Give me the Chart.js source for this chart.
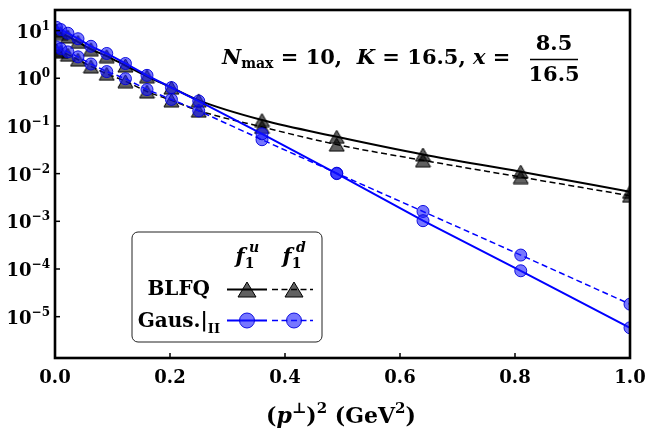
<!DOCTYPE html>
<html>
<head>
<meta charset="utf-8">
<script src="https://cdn.jsdelivr.net/npm/chart.js@4.4.1/dist/chart.umd.min.js"></script>
<style>
  body { margin: 0; background: #fff; }
  canvas { display: block; }
</style>
</head>
<body>
<canvas id="myChart" width="649" height="432"></canvas>
<script>
// (p_perp)^2 sample points, GeV^2
const pSq = [0.0025, 0.01, 0.0225, 0.04, 0.0625, 0.09, 0.1225, 0.16, 0.2025, 0.25, 0.36, 0.49, 0.64, 0.81, 1.0];
// BLFQ f1 for u and d quark
const blfqU = [10.0, 8.88, 7.52, 5.79, 4.06, 2.91, 1.85, 1.10, 0.637, 0.344, 0.133, 0.0593, 0.0252, 0.0110, 0.00416];
const blfqD = [3.87, 3.60, 3.12, 2.46, 1.77, 1.24, 0.867, 0.527, 0.344, 0.209, 0.0953, 0.0406, 0.0190, 0.00847, 0.00344];
// Gaussian fit (region II)
const gausU = [11.7, 10.5, 8.80, 6.74, 4.68, 3.31, 2.04, 1.15, 0.637, 0.333, 0.0684, 0.0100, 0.00103, 9.18e-5, 5.85e-6];
const gausD = [4.53, 4.16, 3.57, 2.81, 1.99, 1.38, 0.977, 0.579, 0.360, 0.207, 0.0514, 0.0102, 0.00161, 1.96e-4, 1.83e-5];

const xTicks = [0, 0.2, 0.4, 0.6, 0.8, 1.0];
const xTickLabels = ["0.0", "0.2", "0.4", "0.6", "0.8", "1.0"];
const yTickExp = [1, 0, -1, -2, -3, -4, -5];

const SERIF = "'DejaVu Serif'";
const BLUE = "#0000ff";
const BLUE_FILL = "rgba(20,20,255,0.58)";
const BLUE_EDGE = "rgba(0,0,220,0.9)";
const GREY_FILL = "rgba(0,0,0,0.62)";

function toPoints(xs, ys) {
  return xs.map((x, i) => ({ x: x, y: ys[i] }));
}

// triangle marker centred on its box, like matplotlib '^'
function triMarker(w, h) {
  const c = document.createElement("canvas");
  c.width = w + 2;
  c.height = h + 2;
  const g = c.getContext("2d");
  g.beginPath();
  g.moveTo(1 + w / 2, 1);
  g.lineTo(1 + w, 1 + h);
  g.lineTo(1, 1 + h);
  g.closePath();
  g.fillStyle = GREY_FILL;
  g.fill();
  g.strokeStyle = "#000";
  g.lineWidth = 1;
  g.stroke();
  return c;
}
const triImg = triMarker(15, 13);
const triLegend = triMarker(18, 15);

// draws text made of pieces with different fonts / offsets
function drawRich(ctx, parts, x, y, align) {
  let total = 0;
  parts.forEach((p) => {
    ctx.font = p.f;
    p.w = ctx.measureText(p.t).width;
    total += p.w;
  });
  let cx = x;
  if (align == "center") cx = x - total / 2;
  if (align == "right") cx = x - total;
  ctx.textAlign = "left";
  ctx.textBaseline = "alphabetic";
  parts.forEach((p) => {
    ctx.font = p.f;
    ctx.fillText(p.t, cx, y + (p.dy || 0));
    cx += p.w;
  });
  return cx;
}

function fnt(size, style) {
  return (style || "bold") + " " + size + "px " + SERIF;
}

function drawCirc(ctx, x, y, r) {
  ctx.beginPath();
  ctx.arc(x, y, r, 0, Math.PI * 2);
  ctx.fillStyle = BLUE_FILL;
  ctx.fill();
  ctx.strokeStyle = BLUE_EDGE;
  ctx.lineWidth = 1;
  ctx.stroke();
}

const decorPlugin = {
  id: "decor",
  afterDatasetsDraw(chart) {
    const ctx = chart.ctx;
    const a = chart.chartArea;
    const xs = chart.scales.x;
    const ys = chart.scales.y;
    ctx.save();
    ctx.fillStyle = "#000";
    ctx.strokeStyle = "#000";

    // inward ticks
    ctx.lineWidth = 1.5;
    xTicks.forEach((v) => {
      const px = xs.getPixelForValue(v);
      ctx.beginPath();
      ctx.moveTo(px, a.bottom);
      ctx.lineTo(px, a.bottom - 5);
      ctx.stroke();
    });
    yTickExp.forEach((e) => {
      const py = ys.getPixelForValue(Math.pow(10, e));
      ctx.beginPath();
      ctx.moveTo(a.left, py);
      ctx.lineTo(a.left + 5, py);
      ctx.stroke();
    });

    // frame
    ctx.lineWidth = 2.6;
    ctx.strokeRect(a.left, a.top, a.right - a.left, a.bottom - a.top);

    // tick labels
    xTicks.forEach((v, i) => {
      const px = xs.getPixelForValue(v);
      drawRich(ctx, [{ t: xTickLabels[i], f: fnt(18) }], px, a.bottom + 25, "center");
    });
    yTickExp.forEach((e) => {
      const py = ys.getPixelForValue(Math.pow(10, e));
      const ex = e < 0 ? "\u2212" + Math.abs(e) : String(e);
      drawRich(ctx, [
        { t: "10", f: fnt(18) },
        { t: ex, f: fnt(12), dy: -8 }
      ], a.left - 5, py + 7, "right");
    });

    // x axis title
    drawRich(ctx, [
      { t: "(", f: fnt(22) },
      { t: "p", f: fnt(22, "italic bold") },
      { t: "\u22a5", f: fnt(15), dy: -10 },
      { t: ")", f: fnt(22) },
      { t: "2", f: fnt(15), dy: -10 },
      { t: " (GeV", f: fnt(22) },
      { t: "2", f: fnt(15), dy: -10 },
      { t: ")", f: fnt(22) }
    ], 341, 423, "center");

    // annotation
    let endX = drawRich(ctx, [
      { t: "N", f: fnt(21, "italic bold") },
      { t: "max", f: fnt(14), dy: 4 },
      { t: " = 10,  ", f: fnt(21) },
      { t: "K", f: fnt(21, "italic bold") },
      { t: " = 16.5, ", f: fnt(21) },
      { t: "x", f: fnt(21, "italic bold") },
      { t: " = ", f: fnt(21) }
    ], 222, 64, "left");
    const fx = Math.max(endX + 6, 530);
    ctx.lineWidth = 1.3;
    ctx.beginPath();
    ctx.moveTo(fx, 59.5);
    ctx.lineTo(fx + 48, 59.5);
    ctx.stroke();
    drawRich(ctx, [{ t: "8.5", f: fnt(21) }], fx + 24, 50, "center");
    drawRich(ctx, [{ t: "16.5", f: fnt(21) }], fx + 24, 81, "center");

    // legend box
    const bx = 132, by = 232, bw = 190, bh = 110, rr = 6;
    ctx.beginPath();
    ctx.moveTo(bx + rr, by);
    ctx.arcTo(bx + bw, by, bx + bw, by + bh, rr);
    ctx.arcTo(bx + bw, by + bh, bx, by + bh, rr);
    ctx.arcTo(bx, by + bh, bx, by, rr);
    ctx.arcTo(bx, by, bx + bw, by, rr);
    ctx.closePath();
    ctx.fillStyle = "rgba(255,255,255,0.9)";
    ctx.fill();
    ctx.strokeStyle = "#222";
    ctx.lineWidth = 1;
    ctx.stroke();

    ctx.fillStyle = "#000";
    drawRich(ctx, [
      { t: "f", f: fnt(21, "italic bold") },
      { t: "1", f: fnt(14), dy: 5 }
    ], 245, 263, "center");
    ctx.font = fnt(14, "italic bold");
    ctx.fillText("u", 249, 252);
    drawRich(ctx, [
      { t: "f", f: fnt(21, "italic bold") },
      { t: "1", f: fnt(14), dy: 5 }
    ], 292, 263, "center");
    ctx.font = fnt(14, "italic bold");
    ctx.fillText("d", 296, 252);

    drawRich(ctx, [{ t: "BLFQ", f: fnt(20) }], 210, 295, "right");
    drawRich(ctx, [
      { t: "Gaus.|", f: fnt(20) },
      { t: "II", f: fnt(13), dy: 6 }
    ], 220, 327, "right");

    // legend samples
    const rowsY = [289.5, 320.5];
    [[0, "#000"], [1, BLUE]].forEach(([r, col]) => {
      const yy = rowsY[r];
      ctx.strokeStyle = col;
      ctx.lineWidth = 1.8;
      ctx.setLineDash([]);
      ctx.beginPath();
      ctx.moveTo(227, yy);
      ctx.lineTo(267, yy);
      ctx.stroke();
      ctx.setLineDash([6, 3.5]);
      ctx.lineWidth = 1.4;
      ctx.beginPath();
      ctx.moveTo(272, yy);
      ctx.lineTo(313, yy);
      ctx.stroke();
      ctx.setLineDash([]);
      if (r == 0) {
        ctx.drawImage(triLegend, 247 - triLegend.width / 2, yy - triLegend.height / 2);
        ctx.drawImage(triLegend, 294 - triLegend.width / 2, yy - triLegend.height / 2);
      } else {
        drawCirc(ctx, 247, yy, 7.5);
        drawCirc(ctx, 294, yy, 7.5);
      }
    });
    ctx.restore();
  }
};

const ctx = document.getElementById("myChart").getContext("2d");
const myChart = new Chart(ctx, {
  type: "line",
  data: {
    datasets: [
      {
        label: "Gaus u",
        data: toPoints(pSq, gausU),
        borderColor: BLUE,
        borderWidth: 2,
        backgroundColor: BLUE_FILL,
        pointBorderColor: BLUE_EDGE,
        pointBorderWidth: 1,
        pointStyle: "circle",
        pointRadius: 6,
        fill: false,
      },
      {
        label: "Gaus d",
        data: toPoints(pSq, gausD),
        borderColor: BLUE,
        borderWidth: 1.5,
        borderDash: [6, 3.5],
        backgroundColor: BLUE_FILL,
        pointBorderColor: BLUE_EDGE,
        pointBorderWidth: 1,
        pointStyle: "circle",
        pointRadius: 6,
        fill: false,
      },
      {
        label: "BLFQ u",
        data: toPoints(pSq, blfqU),
        borderColor: "#000",
        borderWidth: 2,
        pointStyle: triImg,
        pointRadius: 8,
        cubicInterpolationMode: "monotone",
        fill: false,
      },
      {
        label: "BLFQ d",
        data: toPoints(pSq, blfqD),
        borderColor: "#000",
        borderWidth: 1.5,
        borderDash: [6, 3.5],
        pointStyle: triImg,
        pointRadius: 8,
        cubicInterpolationMode: "monotone",
        fill: false,
      },
    ],
  },
  options: {
    responsive: false,
    animation: false,
    devicePixelRatio: 1,
    layout: { padding: { left: 55, right: 19, top: 4, bottom: 74 } },
    plugins: {
      legend: { display: false },
      tooltip: { enabled: false },
    },
    scales: {
      x: { type: "linear", display: false, min: 0, max: 1 },
      y: { type: "logarithmic", display: false, min: 1.36e-6, max: 27 },
    },
  },
  plugins: [decorPlugin],
});
</script>
</body>
</html>
